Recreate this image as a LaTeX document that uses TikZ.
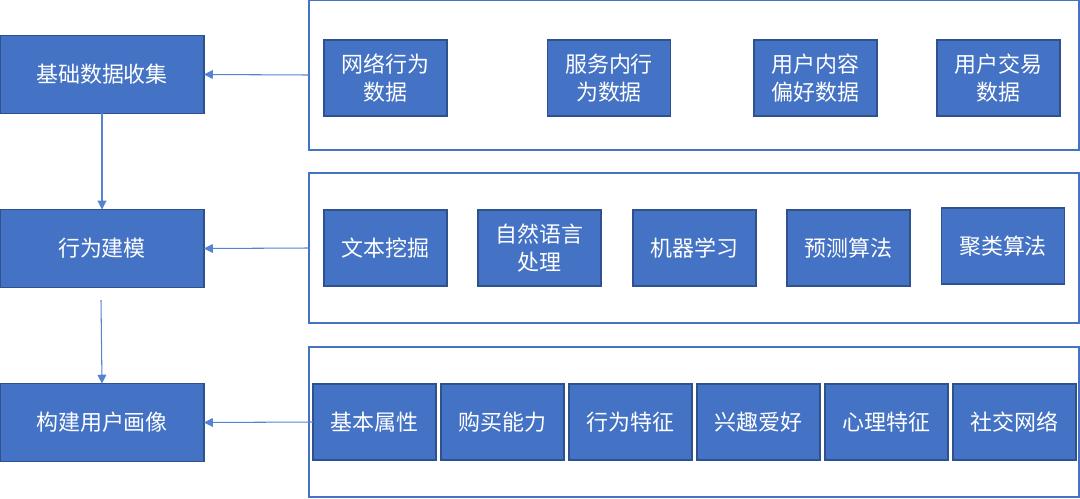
\documentclass[tikz,border=0pt]{standalone}
\usepackage{fontspec}
\newfontfamily\cjk{Noto Sans CJK SC}
\usepackage{tikz}
\usetikzlibrary{arrows.meta}
\usepackage{xcolor}
\definecolor{boxblue}{RGB}{68,114,196}
\definecolor{edgeblue}{RGB}{47,82,143}
\definecolor{lineblue}{RGB}{86,130,210}

\tikzset{
  stagebox/.style={fill=boxblue,draw=edgeblue,line width=0.6pt,text=white,
    minimum width=4.08cm,minimum height=1.56cm,inner sep=0pt,outer sep=0pt,
    font=\cjk\fontsize{12.5}{16}\selectfont},
  itembox/.style={stagebox,minimum width=2.46cm,minimum height=1.52cm,align=center},
  panel/.style={draw=boxblue,line width=0.8pt,fill=white,
    minimum width=15.4cm,minimum height=3cm,inner sep=0pt,outer sep=0pt},
  flow/.style={draw=lineblue,line width=0.6pt,-{Triangle[length=5pt,width=5pt]}}
}

\begin{document}
\begin{tikzpicture}[x=0.02cm,y=-0.02cm]
  \useasboundingbox (0,0) rectangle (1080,498);

  % panels on the right
  \node[panel] (p1) at (694,75) {};
  \node[panel] (p2) at (694,248) {};
  \node[panel] (p3) at (694,422) {};

  % stages on the left
  \node[stagebox] (b1) at (102,74.5) {基础数据收集};
  \node[stagebox] (b2) at (102,248.5) {行为建模};
  \node[stagebox] (b3) at (102,422.5) {构建用户画像};

  % data sources
  \node[itembox] (a1) at (385.5,78) {网络行为\\数据};
  \node[itembox] (a2) at (609,78) {服务内行\\为数据};
  \node[itembox] (a3) at (815.5,78) {用户内容\\偏好数据};
  \node[itembox] (a4) at (998.5,78) {用户交易\\数据};

  % modelling methods
  \node[itembox] (m1) at (385.5,248) {文本挖掘};
  \node[itembox] (m2) at (539.5,248) {自然语言\\处理};
  \node[itembox] (m3) at (694.5,248) {机器学习};
  \node[itembox] (m4) at (848.5,248) {预测算法};
  \node[itembox] (m5) at (1003,246) {聚类算法};

  % portrait dimensions
  \node[itembox] (c1) at (374.5,422) {基本属性};
  \node[itembox] (c2) at (502.5,422) {购买能力};
  \node[itembox] (c3) at (630.5,422) {行为特征};
  \node[itembox] (c4) at (758.5,422) {兴趣爱好};
  \node[itembox] (c5) at (886.5,422) {心理特征};
  \node[itembox] (c6) at (1014.5,422) {社交网络};

  % connectors
  \coordinate (gap) at (101,300);
  \draw[flow] (b1.south) -- (b2.north);
  \draw[flow] (gap) -- (b3.north);
  \draw[flow] (p1.west) -- (b1.east);
  \draw[flow] (p2.west) -- (b2.east);
  \draw[flow] (c1.west) -- (b3.east);
\end{tikzpicture}
\end{document}
